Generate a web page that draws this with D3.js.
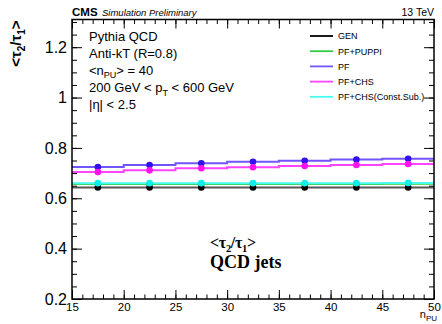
<!DOCTYPE html>
<html>
<head>
<meta charset="utf-8">
<script src="https://cdn.jsdelivr.net/npm/d3@7"></script>
<style>
  body { margin: 0; background: #fff; }
  svg { display: block; font-family: "Liberation Sans", Helvetica, Arial, sans-serif; }
</style>
</head>
<body>
<div id="chart"></div>
<script>
// bins in n_PU, 5 wide
var binEdges = [15, 20, 25, 30, 35, 40, 45, 50];
var binCenters = [17.5, 22.5, 27.5, 32.5, 37.5, 42.5, 47.5];

var genValues    = [0.643, 0.643, 0.643, 0.643, 0.643, 0.643, 0.643];
var puppiValues  = [0.657, 0.657, 0.657, 0.657, 0.657, 0.657, 0.658];
var pfValues     = [0.724, 0.732, 0.739, 0.745, 0.749, 0.754, 0.757];
var chsValues    = [0.704, 0.711, 0.719, 0.723, 0.728, 0.732, 0.736];
var constValues  = [0.660, 0.660, 0.660, 0.660, 0.660, 0.660, 0.661];

var seriesNames = ["GEN", "PF+PUPPI", "PF", "PF+CHS", "PF+CHS(Const.Sub.)"];
var xTicks = [15, 20, 25, 30, 35, 40, 45, 50];
var yTicks = [0.2, 0.4, 0.6, 0.8, 1.0, 1.2];

var width = 442, height = 324;
var margin = {top: 19.5, right: 8, bottom: 25, left: 72};

var series = [
  {name: seriesNames[0], values: genValues,   line: "#555555", dot: "#000000"},
  {name: seriesNames[1], values: puppiValues, line: "#33cc44", dot: "#22bb33"},
  {name: seriesNames[2], values: pfValues,    line: "#7355ff", dot: "#3311ee"},
  {name: seriesNames[3], values: chsValues,   line: "#ff44ff", dot: "#ff11ee"},
  {name: seriesNames[4], values: constValues, line: "#44ffee", dot: "#11eeee"}
];

var svg = d3.select("#chart").append("svg")
  .attr("width", width)
  .attr("height", height);

var x = d3.scaleLinear().domain([15, 50]).range([margin.left, width - margin.right]);
var y = d3.scaleLinear().domain([0.2, 1.31]).range([height - margin.bottom, margin.top]);

var x0 = x.range()[0], x1 = x.range()[1];
var y0 = y.range()[0], y1 = y.range()[1];

// data: step lines first, then markers
series.forEach(function (s) {
  var pts = [];
  s.values.forEach(function (v, i) {
    pts.push([binEdges[i], v]);
    pts.push([binEdges[i + 1], v]);
  });
  svg.append("path")
    .attr("d", d3.line().x(d => x(d[0])).y(d => y(d[1]))(pts))
    .attr("fill", "none")
    .attr("stroke", s.line)
    .attr("stroke-width", 2);
});
[1, 0, 2, 3, 4].forEach(function (k) {
  var s = series[k];
  svg.append("g").selectAll("circle")
    .data(s.values)
    .enter()
    .append("circle")
    .attr("cx", (d, i) => x(binCenters[i]))
    .attr("cy", d => y(d))
    .attr("r", 3.3)
    .attr("fill", s.dot);
});

// axes, ROOT style ticks inside the frame
var minorX = d3.range(15, 50.01, 1);
var minorY = d3.range(0.2, 1.3101, 0.05);

function tickStyle(g) {
  g.select(".domain").remove();
  g.selectAll("line").attr("stroke", "#000").attr("stroke-width", 1);
}

svg.append("g").attr("transform", "translate(0," + y0 + ")")
  .call(d3.axisBottom(x).tickValues(minorX).tickSize(-4.5).tickFormat(""))
  .call(tickStyle);
svg.append("g").attr("transform", "translate(0," + y0 + ")")
  .call(d3.axisBottom(x).tickValues(xTicks).tickSize(-9).tickPadding(4).tickFormat(d3.format("d")))
  .call(tickStyle)
  .selectAll("text").attr("font-size", 11.5).attr("fill", "#000")
  .attr("font-family", "Liberation Sans, Helvetica, Arial, sans-serif");
svg.append("g").attr("transform", "translate(0," + y1 + ")")
  .call(d3.axisTop(x).tickValues(minorX).tickSize(-4.5).tickFormat(""))
  .call(tickStyle);
svg.append("g").attr("transform", "translate(0," + y1 + ")")
  .call(d3.axisTop(x).tickValues(xTicks).tickSize(-9).tickFormat(""))
  .call(tickStyle);

svg.append("g").attr("transform", "translate(" + x0 + ",0)")
  .call(d3.axisLeft(y).tickValues(minorY).tickSize(-5).tickFormat(""))
  .call(tickStyle);
svg.append("g").attr("transform", "translate(" + x0 + ",0)")
  .call(d3.axisLeft(y).tickValues(yTicks).tickSize(-10).tickPadding(5).tickFormat(d => String(+d.toFixed(1))))
  .call(tickStyle)
  .selectAll("text").attr("font-size", 16).attr("fill", "#000")
  .attr("font-family", "Liberation Sans, Helvetica, Arial, sans-serif");
svg.append("g").attr("transform", "translate(" + x1 + ",0)")
  .call(d3.axisRight(y).tickValues(minorY).tickSize(-5).tickFormat(""))
  .call(tickStyle);
svg.append("g").attr("transform", "translate(" + x1 + ",0)")
  .call(d3.axisRight(y).tickValues(yTicks).tickSize(-10).tickFormat(""))
  .call(tickStyle);

svg.append("rect")
  .attr("x", x0).attr("y", y1)
  .attr("width", x1 - x0).attr("height", y0 - y1)
  .attr("fill", "none").attr("stroke", "#000").attr("stroke-width", 1.5);

// header
svg.append("text").attr("x", x0).attr("y", 15.5)
  .attr("font-size", 11.5).attr("font-weight", "bold").text("CMS");
svg.append("text").attr("x", x0 + 30).attr("y", 15.5)
  .attr("font-size", 9.5).attr("font-style", "italic").text("Simulation Preliminary");
svg.append("text").attr("x", x1).attr("y", 15.5).attr("text-anchor", "end")
  .attr("font-size", 10.5).text("13 TeV");

// axis titles
var yt = svg.append("text")
  .attr("transform", "translate(21," + (y1 + 1) + ") rotate(-90)")
  .attr("text-anchor", "end")
  .attr("font-size", 15).attr("font-weight", "bold");
yt.append("tspan").text("<τ");
yt.append("tspan").attr("font-size", 10).attr("dy", 4).text("2");
yt.append("tspan").attr("dy", -4).text("/τ");
yt.append("tspan").attr("font-size", 10).attr("dy", 4).text("1");
yt.append("tspan").attr("dy", -4).text(">");

var xt = svg.append("text").attr("x", x1 + 3).attr("y", 318).attr("text-anchor", "end")
  .attr("font-size", 11);
xt.append("tspan").text("n");
xt.append("tspan").attr("font-size", 8).attr("dy", 3).text("PU");

// info block
var info = svg.append("g").attr("font-size", 13);
info.append("text").attr("x", 89).attr("y", 40.5).text("Pythia QCD");
info.append("text").attr("x", 89).attr("y", 57.5).text("Anti-kT (R=0.8)");
var npu = info.append("text").attr("x", 89).attr("y", 74.5);
npu.append("tspan").text("<n");
npu.append("tspan").attr("font-size", 9).attr("dy", 3).text("PU");
npu.append("tspan").attr("dy", -3).text("> = 40");
var pt = info.append("text").attr("x", 89).attr("y", 91.5);
pt.append("tspan").text("200 GeV < p");
pt.append("tspan").attr("font-size", 9).attr("dy", 4).text("T");
pt.append("tspan").attr("dy", -4).text(" < 600 GeV");
info.append("text").attr("x", 89).attr("y", 108.5).text("|η| < 2.5");

// legend
var legend = svg.append("g").attr("font-size", 9);
series.forEach(function (s, i) {
  var ly = 36 + i * 15.2;
  legend.append("line")
    .attr("x1", 310).attr("x2", 333).attr("y1", ly).attr("y2", ly)
    .attr("stroke", i === 0 ? "#000" : s.line).attr("stroke-width", 1.8);
  legend.append("text").attr("x", 338).attr("y", ly + 3.3).text(s.name);
});

// bottom label
var lab = svg.append("g").attr("font-family", "Liberation Serif, Times New Roman, serif")
  .attr("font-weight", "bold").attr("font-size", 18);
var l1 = lab.append("text").attr("x", 210).attr("y", 248).attr("font-size", 16)
  .attr("letter-spacing", -0.3);
l1.append("tspan").text("<τ");
l1.append("tspan").attr("font-size", 10.5).attr("dy", 4).text("2");
l1.append("tspan").attr("dy", -4).text("/τ");
l1.append("tspan").attr("font-size", 10.5).attr("dy", 4).text("1");
l1.append("tspan").attr("dy", -4).text(">");
lab.append("text").attr("x", 210).attr("y", 268).text("QCD jets");
</script>
</body>
</html>
